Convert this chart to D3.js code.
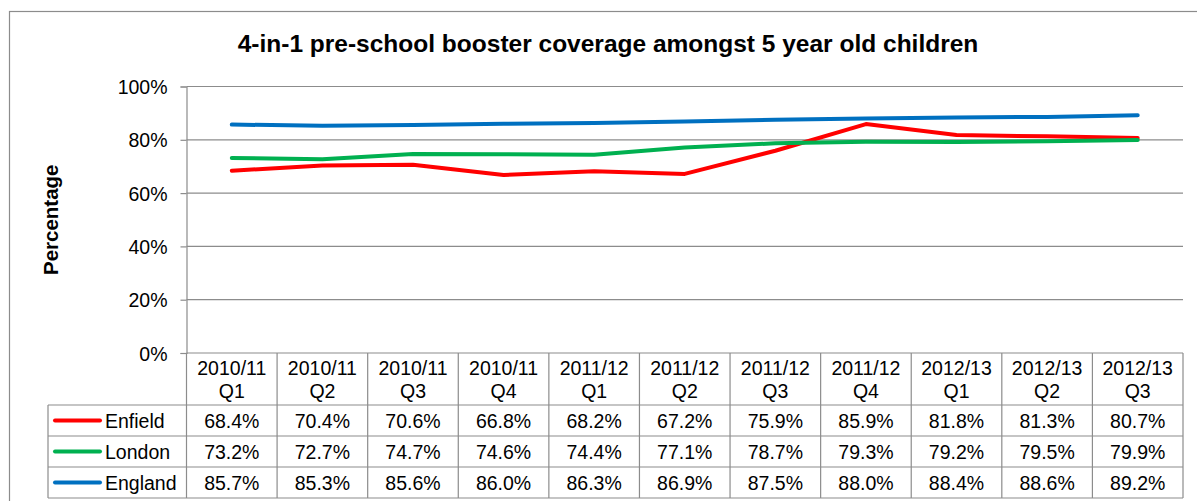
<!DOCTYPE html>
<html>
<head>
<meta charset="utf-8">
<script src="https://cdn.jsdelivr.net/npm/d3@7"></script>
<style>
  html, body { margin: 0; padding: 0; background: #fff; }
  svg { display: block; font-family: "Liberation Sans", Arial, sans-serif; }
</style>
</head>
<body>
<svg id="chart" width="1197" height="501"></svg>
<script>
// Quarterly periods (two-line category labels)
const periods = ["2010/11", "2010/11", "2010/11", "2010/11", "2011/12", "2011/12", "2011/12", "2011/12", "2012/13", "2012/13", "2012/13"];
const quarters = ["Q1", "Q2", "Q3", "Q4", "Q1", "Q2", "Q3", "Q4", "Q1", "Q2", "Q3"];

// Coverage (%) per area
const enfield = [68.4, 70.4, 70.6, 66.8, 68.2, 67.2, 75.9, 85.9, 81.8, 81.3, 80.7];
const london  = [73.2, 72.7, 74.7, 74.6, 74.4, 77.1, 78.7, 79.3, 79.2, 79.5, 79.9];
const england = [85.7, 85.3, 85.6, 86.0, 86.3, 86.9, 87.5, 88.0, 88.4, 88.6, 89.2];

const seriesNames = ["Enfield", "London", "England"];
const seriesColors = ["#ff0000", "#00b050", "#0070c0"];
const yTicks = [0, 20, 40, 60, 80, 100];

const series = [enfield, london, england].map((values, i) => ({
  name: seriesNames[i], color: seriesColors[i], values
}));
const cats = periods.map((p, i) => i);

const svg = d3.select("#chart");
const gridColor = "#8c8c8c";
const fs = 19.5;

// outer chart border
svg.append("rect")
  .attr("x", 9.5).attr("y", 11.5)
  .attr("width", 1200).attr("height", 500)
  .attr("fill", "none").attr("stroke", gridColor).attr("stroke-width", 1.2);

const plot = { left: 186.5, right: 1183, top: 86.5, bottom: 353 };

const x = d3.scaleBand().domain(cats).range([plot.left, plot.right]).paddingInner(0).paddingOuter(0);
const y = d3.scaleLinear().domain([0, 100]).range([plot.bottom, plot.top]);

// title
svg.append("text")
  .attr("x", 608).attr("y", 52)
  .attr("text-anchor", "middle")
  .attr("font-size", 24.5).attr("font-weight", "bold")
  .attr("fill", "#000")
  .text("4-in-1 pre-school booster coverage amongst 5 year old children");

// y axis title
svg.append("text")
  .attr("transform", `translate(58, ${(plot.top + plot.bottom) / 2}) rotate(-90)`)
  .attr("text-anchor", "middle")
  .attr("font-size", 20.5).attr("font-weight", "bold")
  .text("Percentage");

// gridlines
svg.append("g").selectAll("line")
  .data(yTicks.filter(t => t > 0))
  .join("line")
  .attr("x1", plot.left).attr("x2", plot.right)
  .attr("y1", d => y(d)).attr("y2", d => y(d))
  .attr("stroke", gridColor).attr("stroke-width", 1.2);

// y axis
const yAxis = d3.axisLeft(y).tickValues(yTicks).tickFormat(d => d + "%").tickSize(6).tickPadding(13);
const gy = svg.append("g").attr("transform", `translate(${plot.left},0)`).call(yAxis);
gy.select(".domain").attr("stroke", gridColor).attr("stroke-width", 1.2);
gy.selectAll(".tick line").attr("stroke", gridColor).attr("stroke-width", 1.2);
gy.selectAll(".tick text").attr("font-size", fs).attr("fill", "#000")
  .attr("font-family", "Liberation Sans, Arial, sans-serif").attr("dy", "0.36em");

// lines
const line = d3.line()
  .x((d, i) => x(i) + x.bandwidth() / 2)
  .y(d => y(d));

svg.append("g").selectAll("path")
  .data(series)
  .join("path")
  .attr("d", d => line(d.values))
  .attr("fill", "none")
  .attr("stroke", d => d.color)
  .attr("stroke-width", 4)
  .attr("stroke-linejoin", "round")
  .attr("stroke-linecap", "round");

// data table
const headerBottom = 405;
const rowH = 31;
const tableLeft = 48;
const tableRight = plot.right;
const tableBottom = headerBottom + rowH * series.length;
const tg = svg.append("g");

tg.append("line").attr("x1", plot.left).attr("x2", tableRight).attr("y1", plot.bottom).attr("y2", plot.bottom)
  .attr("stroke", gridColor).attr("stroke-width", 1.2);
[headerBottom, headerBottom + rowH, headerBottom + 2 * rowH, tableBottom].forEach(yy => {
  tg.append("line").attr("x1", tableLeft).attr("x2", tableRight).attr("y1", yy).attr("y2", yy)
    .attr("stroke", gridColor).attr("stroke-width", 1.2);
});
tg.append("line").attr("x1", tableLeft).attr("x2", tableLeft).attr("y1", headerBottom).attr("y2", tableBottom)
  .attr("stroke", gridColor).attr("stroke-width", 1.2);
cats.concat([cats.length]).forEach(i => {
  const xx = i < cats.length ? x(i) : plot.right;
  tg.append("line").attr("x1", xx).attr("x2", xx).attr("y1", plot.bottom).attr("y2", tableBottom)
    .attr("stroke", gridColor).attr("stroke-width", 1.2);
});

// header labels
const hdr = tg.append("g").selectAll("text").data(cats).join("text")
  .attr("text-anchor", "middle").attr("font-size", fs).attr("fill", "#000");
hdr.append("tspan").attr("x", i => x(i) + x.bandwidth() / 2).attr("y", 375).text(i => periods[i]);
hdr.append("tspan").attr("x", i => x(i) + x.bandwidth() / 2).attr("y", 398).text(i => quarters[i]);

// rows: legend key + values
series.forEach((s, r) => {
  const cy = headerBottom + rowH * r + rowH / 2;
  tg.append("line").attr("x1", 55).attr("x2", 100).attr("y1", cy).attr("y2", cy)
    .attr("stroke", s.color).attr("stroke-width", 4).attr("stroke-linecap", "round");
  tg.append("text").attr("x", 105).attr("y", cy + 7).attr("font-size", fs).text(s.name);
  tg.append("g").selectAll("text").data(s.values).join("text")
    .attr("x", (d, i) => x(i) + x.bandwidth() / 2)
    .attr("y", cy + 7)
    .attr("text-anchor", "middle").attr("font-size", fs)
    .text(d => d.toFixed(1) + "%");
});
</script>
</body>
</html>
